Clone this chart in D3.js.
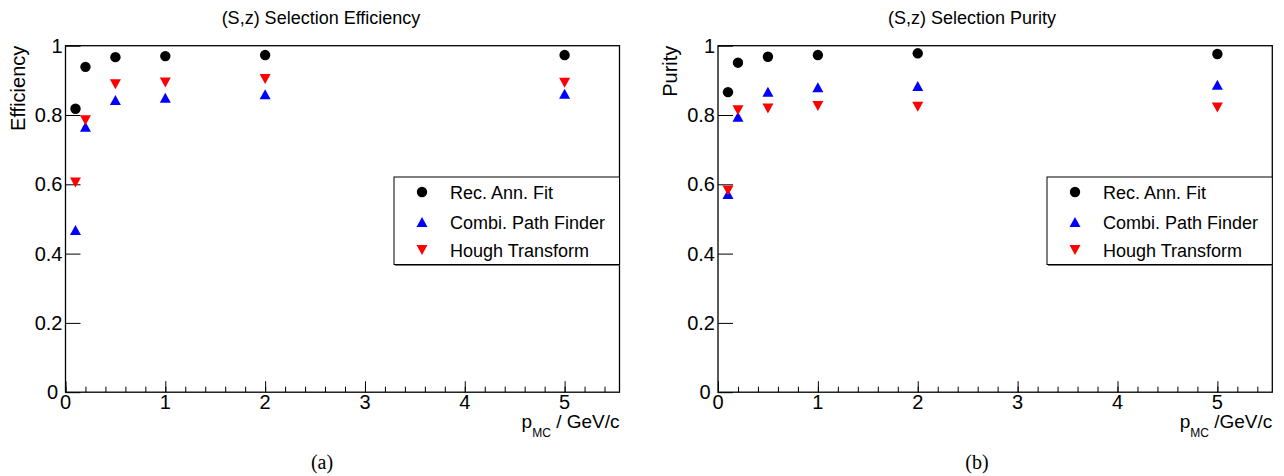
<!DOCTYPE html>
<html>
<head>
<meta charset="utf-8">
<script src="https://cdn.jsdelivr.net/npm/d3@7"></script>
<style>
  body { margin: 0; background: #fff; }
  svg { display: block; }
</style>
</head>
<body>
<svg width="1284" height="476"></svg>
<script>
// momentum points (GeV/c)
var pValues = [0.1, 0.2, 0.5, 1, 2, 5];

// (a) efficiency
var effRecAnn = [0.818, 0.939, 0.967, 0.970, 0.973, 0.973];
var effCombi  = [0.468, 0.766, 0.843, 0.850, 0.860, 0.861];
var effHough  = [0.605, 0.785, 0.889, 0.894, 0.904, 0.893];

// (b) purity
var purRecAnn = [0.866, 0.951, 0.968, 0.973, 0.978, 0.976];
var purCombi  = [0.572, 0.795, 0.867, 0.880, 0.884, 0.887];
var purHough  = [0.582, 0.814, 0.819, 0.826, 0.824, 0.822];

var seriesNames = ["Rec. Ann. Fit", "Combi. Path Finder", "Hough Transform"];
var xTicks = [0, 1, 2, 3, 4, 5];
var yTicks = [0, 0.2, 0.4, 0.6, 0.8, 1];

var svg = d3.select("svg");
var font = "'Liberation Sans', Arial, Helvetica, sans-serif";

// marker shapes, drawn around (0,0)
function markerPath(kind) {
    var w = 11, h = 10;
    if (kind === "up") return "M0," + (-h/2) + "L" + (w/2) + "," + (h/2) + "L" + (-w/2) + "," + (h/2) + "Z";
    if (kind === "down") return "M0," + (h/2) + "L" + (w/2) + "," + (-h/2) + "L" + (-w/2) + "," + (-h/2) + "Z";
    return d3.symbol().type(d3.symbolCircle).size(Math.PI * 5.2 * 5.2)();
}
var markerKinds = ["circle", "up", "down"];
var markerColors = ["#000000", "#0000ff", "#ff0000"];

function drawPanel(opt) {
    var x = d3.scaleLinear().domain([0, 5.55]).range([opt.left, opt.right]);
    var y = d3.scaleLinear().domain([0, 1]).range([392.2, 45.7]);

    var g = svg.append("g");

    // x axis: majors + minors pointing up
    g.append("g")
        .attr("transform", "translate(0," + y(0) + ")")
        .call(d3.axisTop(x).tickValues(d3.range(0, 5.5, 0.2)).tickSize(5.5).tickFormat(""))
        .call(a => a.select(".domain").remove());
    g.append("g")
        .attr("transform", "translate(0," + y(0) + ")")
        .call(d3.axisTop(x).tickValues(xTicks).tickSize(11).tickFormat(""))
        .call(a => a.select(".domain").remove());
    g.selectAll(".tick line").attr("stroke", "#000").attr("stroke-width", 1);

    // x tick labels
    g.selectAll(".xlab")
        .data(xTicks)
        .enter()
        .append("text")
        .attr("x", d => x(d))
        .attr("y", 409)
        .attr("text-anchor", "middle")
        .style("font-family", font)
        .style("font-size", "20px")
        .text(d => d);

    // y axis ticks pointing right
    g.append("g")
        .attr("transform", "translate(" + x(0) + ",0)")
        .call(d3.axisRight(y).tickValues(yTicks).tickSize(15).tickFormat(""))
        .call(a => a.select(".domain").remove())
        .selectAll(".tick line").attr("stroke", "#000");

    // y tick labels (the 0 sits a bit further left, next to the x axis 0)
    g.selectAll(".ylab")
        .data(yTicks)
        .enter()
        .append("text")
        .attr("x", d => d === 0 ? x(0) - 7.5 : x(0) - 3)
        .attr("y", d => y(d) + 7)
        .attr("text-anchor", "end")
        .style("font-family", font)
        .style("font-size", "20px")
        .text(d => d);

    // frame
    g.append("rect")
        .attr("x", x(0))
        .attr("y", y(1))
        .attr("width", x(5.55) - x(0))
        .attr("height", y(0) - y(1))
        .attr("fill", "none")
        .attr("stroke", "#000")
        .attr("stroke-width", 1.3);

    // title
    svg.append("text")
        .attr("x", opt.titleX)
        .attr("y", 24)
        .attr("text-anchor", "middle")
        .style("font-family", font)
        .style("font-size", "18px")
        .text(opt.title);

    // y title
    svg.append("text")
        .attr("text-anchor", "end")
        .attr("transform", "translate(" + (x(0) - 41) + "," + y(1) + ")rotate(-90)")
        .style("font-family", font)
        .style("font-size", "20px")
        .text(opt.yTitle);

    // x title, right aligned
    var xt = svg.append("text")
        .attr("x", x(5.55))
        .attr("y", 428)
        .attr("text-anchor", "end")
        .style("font-family", font)
        .style("font-size", "19px");
    xt.append("tspan").text("p");
    xt.append("tspan").attr("dy", 9).style("font-size", "12px").text("MC");
    xt.append("tspan").attr("dy", -9).text(opt.xUnit);

    // caption
    svg.append("text")
        .attr("x", opt.capX)
        .attr("y", 469)
        .attr("text-anchor", "middle")
        .style("font-family", "'Liberation Serif', 'DejaVu Serif', serif")
        .style("font-size", "20px")
        .text(opt.caption);

    // points
    opt.series.forEach(function(vals, i) {
        g.selectAll(".m" + i)
            .data(vals)
            .enter()
            .append("path")
            .attr("d", markerPath(markerKinds[i]))
            .attr("transform", (d, j) => "translate(" + x(pValues[j]) + "," + y(d) + ")")
            .attr("fill", markerColors[i]);
    });

    // legend
    var lx = opt.legendLeft, lr = x(5.55), ly = 177, lb = 264.5;
    g.append("line")
        .attr("x1", lx + 1).attr("x2", lr).attr("y1", lb + 1).attr("y2", lb + 1)
        .attr("stroke", "#777").attr("stroke-width", 1);
    g.append("rect")
        .attr("x", lx).attr("y", ly)
        .attr("width", lr - lx).attr("height", lb - ly)
        .attr("fill", "#fff")
        .attr("stroke", "#000")
        .attr("stroke-width", 1);
    var rowY = [192, 222, 250];
    seriesNames.forEach(function(name, i) {
        g.append("path")
            .attr("d", markerPath(markerKinds[i]))
            .attr("transform", "translate(" + (lx + 28) + "," + rowY[i] + ")")
            .attr("fill", markerColors[i]);
        g.append("text")
            .attr("x", lx + 56)
            .attr("y", rowY[i] + 6.5)
            .style("font-family", font)
            .style("font-size", "18px")
            .text(name);
    });
}

drawPanel({
    left: 65.5, right: 619.5, legendLeft: 394,
    title: "(S,z) Selection Efficiency", titleX: 321,
    yTitle: "Efficiency", xUnit: " / GeV/c", caption: "(a)", capX: 322,
    series: [effRecAnn, effCombi, effHough]
});

drawPanel({
    left: 718, right: 1272.3, legendLeft: 1047,
    title: "(S,z) Selection Purity", titleX: 972,
    yTitle: "Purity", xUnit: " /GeV/c", caption: "(b)", capX: 977,
    series: [purRecAnn, purCombi, purHough]
});
</script>
</body>
</html>
